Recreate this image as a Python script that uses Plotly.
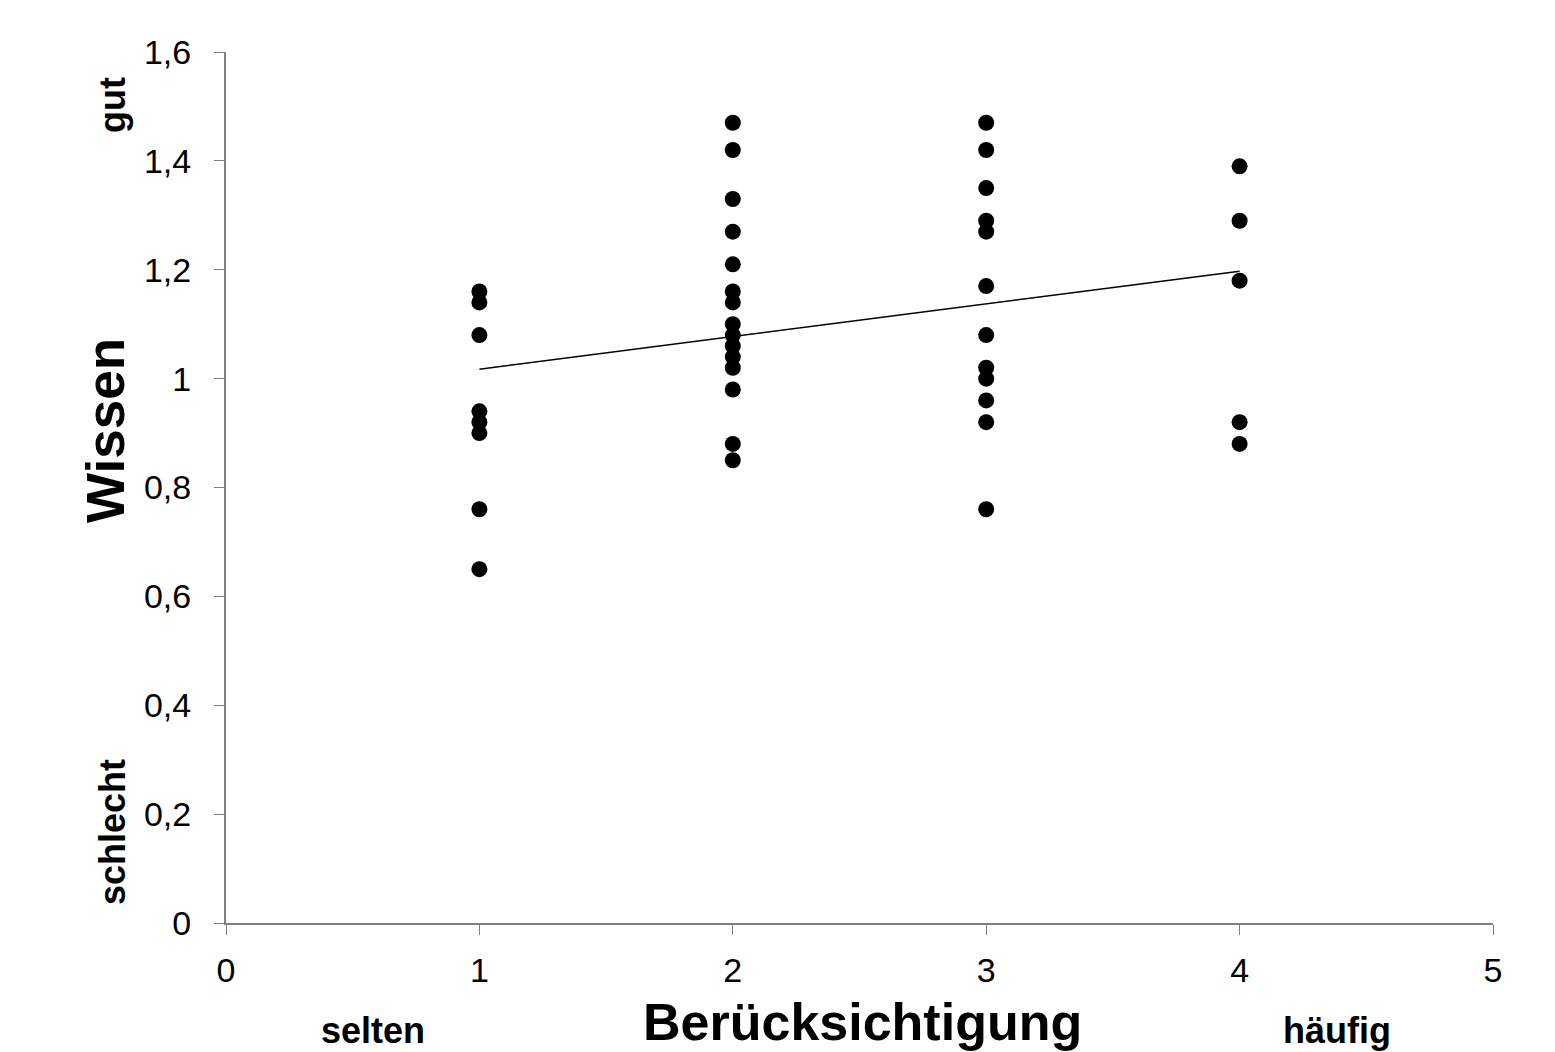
import numpy as np
import plotly.graph_objects as go

# Data
x1 = [1] * 8
y1 = [1.16, 1.14, 1.08, 0.94, 0.92, 0.90, 0.76, 0.65]
x2 = [2] * 15
y2 = [1.47, 1.42, 1.33, 1.27, 1.21, 1.16, 1.14, 1.10, 1.08, 1.06, 1.04, 1.02, 0.98, 0.88, 0.85]
x3 = [3] * 12
y3 = [1.47, 1.42, 1.35, 1.29, 1.27, 1.17, 1.08, 1.02, 1.00, 0.96, 0.92, 0.76]
x4 = [4] * 5
y4 = [1.39, 1.29, 1.18, 0.92, 0.88]

x_ticks = [0, 1, 2, 3, 4, 5]
y_ticks = [0, 0.2, 0.4, 0.6, 0.8, 1.0, 1.2, 1.4, 1.6]

xs = np.array(x1 + x2 + x3 + x4, dtype=float)
ys = np.array(y1 + y2 + y3 + y4, dtype=float)
slope, intercept = np.polyfit(xs, ys, 1)
trend_x = [1, 4]
trend_y = [intercept + slope * v for v in trend_x]

fig = go.Figure()
fig.add_trace(go.Scatter(x=xs, y=ys, mode="markers",
                         marker=dict(color="black", size=16), showlegend=False))
fig.add_trace(go.Scatter(x=trend_x, y=trend_y, mode="lines",
                         line=dict(color="black", width=1.5), showlegend=False))

OFF = 8  # page body margin
W, H = 1555 - OFF, 1052 - OFF
L, R, T, B = 226 - OFF, 62, 52 - OFF, 129
pw, ph = W - L - R, H - T - B

def px(xp):
    return (xp - OFF - L) / pw

def py(yp):
    return (H - B - (yp - OFF)) / ph

axis_font = dict(family="Liberation Sans, Arial, sans-serif", size=34, color="black")
fig.update_layout(
    width=W, height=H,
    margin=dict(l=L, r=R, t=T, b=B),
    plot_bgcolor="white", paper_bgcolor="white",
    separators=",.",
    xaxis=dict(range=[0, 5], tickvals=x_ticks, showgrid=False, zeroline=False,
               showline=True, linecolor="#808080", linewidth=2,
               ticks="outside", ticklen=10, tickcolor="#808080", tickwidth=1,
               tickfont=axis_font, ticklabelstandoff=6),
    yaxis=dict(range=[0, 1.6], tickvals=y_ticks, showgrid=False, zeroline=False,
               showline=True, linecolor="#808080", linewidth=2,
               ticks="outside", ticklen=10, tickcolor="#808080", tickwidth=1,
               tickfont=axis_font, ticklabelstandoff=16),
)

bold = "Liberation Sans, Arial, sans-serif"
ann = [
    dict(text="<b>Wissen</b>", x=px(105), y=py(431), textangle=-90,
         font=dict(family=bold, size=53, color="black")),
    dict(text="<b>gut</b>", x=px(112), y=py(105), textangle=-90,
         font=dict(family=bold, size=36, color="black")),
    dict(text="<b>schlecht</b>", x=px(112), y=py(832), textangle=-90,
         font=dict(family=bold, size=36, color="black")),
    dict(text="<b>Berücksichtigung</b>", x=px(862), y=py(1022),
         font=dict(family=bold, size=52, color="black")),
    dict(text="<b>selten</b>", x=px(373), y=py(1030),
         font=dict(family=bold, size=36, color="black")),
    dict(text="<b>häufig</b>", x=px(1337), y=py(1030),
         font=dict(family=bold, size=36, color="black")),
]
for a in ann:
    a.update(xref="paper", yref="paper", showarrow=False,
             xanchor="center", yanchor="middle")
fig.update_layout(annotations=ann)

fig.write_html("out.html")
